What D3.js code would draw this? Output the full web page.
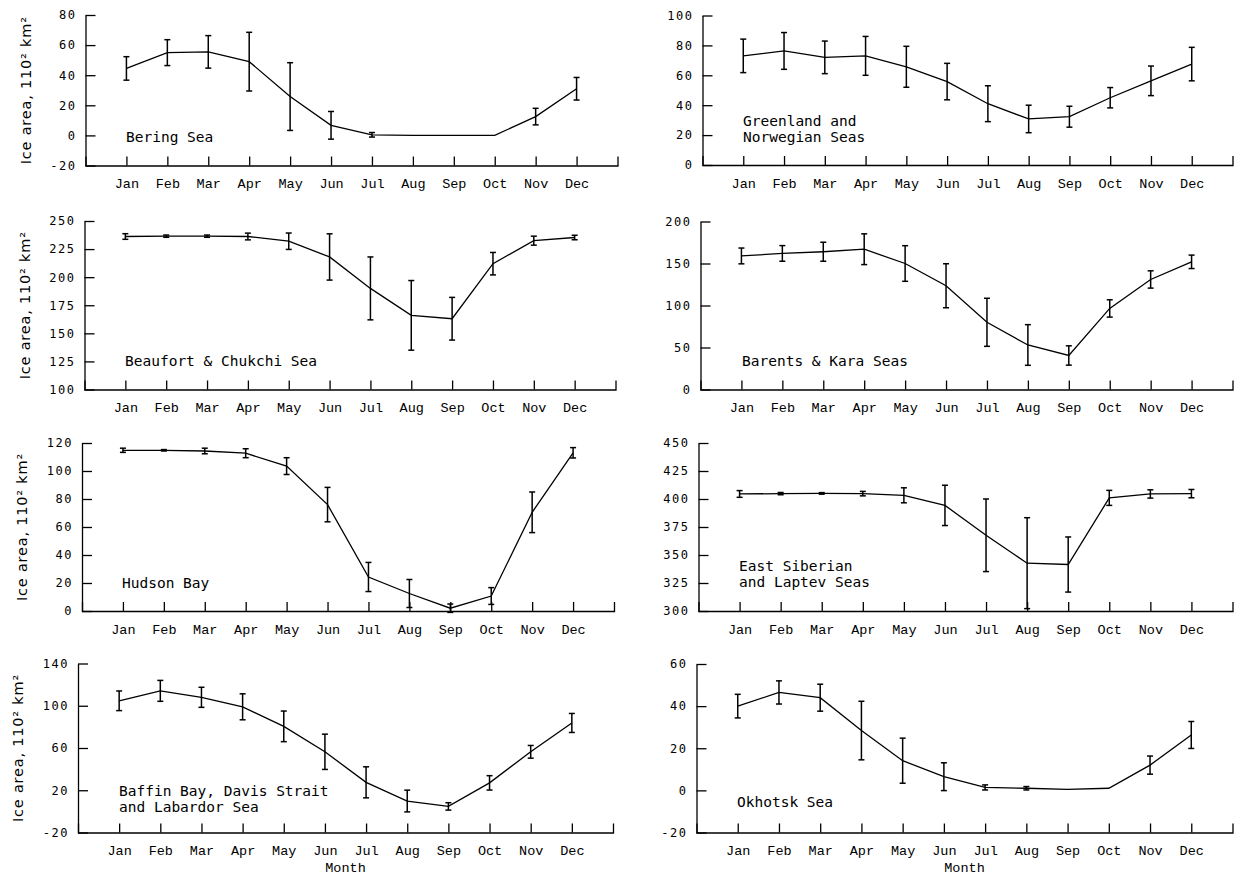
<!DOCTYPE html>
<meta charset="utf-8">
<body style="margin:0;background-color:white;">
<svg width="1234" height="879"></svg>
<script src="https://d3js.org/d3.v7.min.js"></script>
<script>

var months = ["Jan", "Feb", "Mar", "Apr", "May", "Jun", "Jul", "Aug", "Sep", "Oct", "Nov", "Dec"];

// monthly mean ice area and error (half-width of bar), 110^2 km^2
var beringMean = [44.5, 55, 55.5, 49, 25.8, 6.7, 0.4, 0, 0, 0, 12.5, 31];
var beringErr  = [7.8, 8.6, 10.8, 19.5, 22.5, 9.2, 1.5, 0, 0, 0, 5.5, 7.5];
var beringTicks = [-20, 0, 20, 40, 60, 80];

var greenlandMean = [73, 76.3, 72, 73, 65.7, 55.8, 41, 30.8, 32.3, 45, 56.3, 67.5];
var greenlandErr  = [11.2, 12.3, 10.9, 13, 13.7, 12.2, 12, 9.2, 7, 6.8, 9.9, 11.2];
var greenlandTicks = [0, 20, 40, 60, 80, 100];

var beaufortMean = [236.2, 236.5, 236.5, 236.2, 232, 218, 190, 166, 163, 212, 232.5, 235.3];
var beaufortErr  = [2.5, 1, 1, 3, 7.3, 20.6, 28, 31, 19, 10, 4, 2];
var beaufortTicks = [100, 125, 150, 175, 200, 225, 250];

var barentsMean = [159, 162, 164, 167, 150, 123.5, 80, 53, 40.5, 96.5, 131, 152];
var barentsErr  = [9.4, 9.3, 11.3, 18.3, 21.2, 26.2, 28.6, 24.2, 11.5, 10.3, 10.3, 8];
var barentsTicks = [0, 50, 100, 150, 200];

var hudsonMean = [114.8, 114.8, 114.3, 112.7, 103.5, 76, 24.3, 12.5, 2, 10.7, 70.5, 113];
var hudsonErr  = [1.5, 0.5, 2, 3.2, 6, 12.3, 10.4, 10, 3, 6, 14.5, 3.7];
var hudsonTicks = [0, 20, 40, 60, 80, 100, 120];

var siberianMean = [404.5, 404.8, 405, 404.8, 403.3, 394.3, 367.6, 342.7, 341.5, 401, 404.5, 404.8];
var siberianErr  = [3, 1, 0.7, 2, 6.7, 18, 32.4, 40.6, 24.6, 6.7, 3.7, 3.7];
var siberianTicks = [300, 325, 350, 375, 400, 425, 450];

var baffinMean = [104.7, 114.1, 108, 99, 80.5, 56.4, 27.5, 9.8, 4.7, 27, 56.4, 83.7];
var baffinErr  = [9.3, 9.9, 9.5, 12.3, 14.5, 16.7, 14.7, 10.3, 3.5, 6.8, 6, 9];
var baffinTicks = [-20, 20, 60, 100, 140];

var okhotskMean = [40, 46.5, 44, 28.4, 14.1, 6.5, 1.4, 1, 0.5, 1, 12, 26.3];
var okhotskErr  = [5.6, 5.5, 6.4, 13.9, 10.7, 6.6, 1.2, 0.8, 0, 0, 4.3, 6.4];
var okhotskTicks = [-20, 0, 20, 40, 60];

var svg = d3.select("svg");

// box = [left, right, top, bottom]
var panels = [
	{label: ["Bering Sea"], mean: beringMean, err: beringErr, ticks: beringTicks, box: [85.5, 617.5, 15, 165.5], lx: 126, ly: 142, ytitle: true},
	{label: ["Greenland and", "Norwegian Seas"], mean: greenlandMean, err: greenlandErr, ticks: greenlandTicks, box: [702.5, 1232.5, 15.5, 165], lx: 743, ly: 126},
	{label: ["Beaufort & Chukchi Sea"], mean: beaufortMean, err: beaufortErr, ticks: beaufortTicks, box: [84.5, 615.5, 221, 389.5], lx: 125, ly: 366, ytitle: true},
	{label: ["Barents & Kara Seas"], mean: barentsMean, err: barentsErr, ticks: barentsTicks, box: [700.5, 1232.5, 221.5, 389.5], lx: 742, ly: 366},
	{label: ["Hudson Bay"], mean: hudsonMean, err: hudsonErr, ticks: hudsonTicks, box: [82, 614, 443, 611], lx: 122, ly: 588, ytitle: true},
	{label: ["East Siberian", "and Laptev Seas"], mean: siberianMean, err: siberianErr, ticks: siberianTicks, box: [698.5, 1232.5, 443, 611], lx: 739, ly: 571},
	{label: ["Baffin Bay, Davis Strait", "and Labardor Sea"], mean: baffinMean, err: baffinErr, ticks: baffinTicks, box: [78, 613, 663.5, 832.5], lx: 119, ly: 796, ytitle: true, xtitle: true},
	{label: ["Okhotsk Sea"], mean: okhotskMean, err: okhotskErr, ticks: okhotskTicks, box: [696.5, 1232.5, 664, 832.5], lx: 737, ly: 807, xtitle: true}
];

panels.forEach(drawPanel);

function drawPanel(p) {
	var left = p.box[0], right = p.box[1], top = p.box[2], bottom = p.box[3];
	var x = d3.scaleLinear().domain([0, 13]).range([left, right]);
	var y = d3.scaleLinear()
				.domain([p.ticks[0], p.ticks[p.ticks.length - 1]])
				.range([bottom, top]);
	var g = svg.append('g');

	// y axis, ticks pointing inward
	var yAxis = g.append('g')
				.attr('transform', 'translate(' + left + ',0)')
				.call(d3.axisLeft(y)
					.tickValues(p.ticks)
					.tickSizeInner(-10)
					.tickSizeOuter(0)
					.tickPadding(9)
					.tickFormat(function(d) { return String(d); }));
	yAxis.attr('font-family', '"DejaVu Sans Mono", monospace')
		 .attr('font-size', 12)
		 .attr('letter-spacing', 1.5);
	yAxis.selectAll('path, line').attr('stroke-width', 1.3);

	// x axis with month ticks and an end tick on the right
	var xAxis = g.append('g')
				.attr('transform', 'translate(0,' + bottom + ')')
				.call(d3.axisBottom(x)
					.tickValues(d3.range(1, 13))
					.tickSizeInner(-9)
					.tickSizeOuter(-9)
					.tickPadding(13)
					.tickFormat(function(d) { return months[d - 1]; }));
	xAxis.attr('font-family', '"Liberation Mono", monospace')
		 .attr('font-size', 13.5);
	xAxis.selectAll('path, line').attr('stroke-width', 1.3);

	// mean line
	var line = d3.line()
				.x(function(d, i) { return x(i + 1); })
				.y(function(d) { return y(d); });
	g.append('path')
		.datum(p.mean)
		.attr('d', line)
		.attr('fill', 'none')
		.attr('stroke', 'black')
		.attr('stroke-width', 1.3);

	// error bars
	var bars = g.append('g').attr('stroke', 'black').attr('stroke-width', 1.5);
	p.mean.forEach(function(m, i) {
		var e = p.err[i];
		if (e <= 0) return;
		var cx = x(i + 1);
		bars.append('line').attr('x1', cx).attr('x2', cx).attr('y1', y(m - e)).attr('y2', y(m + e));
		bars.append('line').attr('x1', cx - 3).attr('x2', cx + 3).attr('y1', y(m - e)).attr('y2', y(m - e));
		bars.append('line').attr('x1', cx - 3).attr('x2', cx + 3).attr('y1', y(m + e)).attr('y2', y(m + e));
	});

	// region name
	var lab = g.append('text')
				.attr('x', p.lx)
				.attr('y', p.ly)
				.attr('font-family', '"DejaVu Sans Mono", monospace')
				.attr('font-size', 14.5)
				.attr('fill', 'black');
	p.label.forEach(function(t, k) {
		lab.append('tspan').attr('x', p.lx).attr('dy', k == 0 ? 0 : 16).text(t);
	});

	if (p.ytitle) {
		g.append('text')
			.attr('transform', 'translate(' + (left - 55) + ',' + ((top + bottom) / 2) + ')rotate(-90)')
			.attr('text-anchor', 'middle')
			.attr('font-family', '"DejaVu Sans", sans-serif')
			.attr('font-size', 14.5)
			.attr('letter-spacing', 0.8)
			.text('Ice area, 110\u00b2 km\u00b2');
	}
	if (p.xtitle) {
		g.append('text')
			.attr('x', x(6.5))
			.attr('y', bottom + 39.5)
			.attr('text-anchor', 'middle')
			.attr('font-family', '"Liberation Mono", monospace')
			.attr('font-size', 13.5)
			.text('Month');
	}
}

</script>
</body>
